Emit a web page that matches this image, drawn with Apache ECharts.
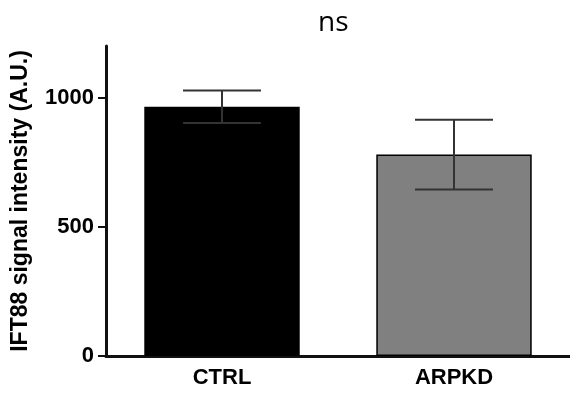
<!DOCTYPE html>
<html>
<head>
<meta charset="utf-8">
<script src="https://cdn.jsdelivr.net/npm/echarts@6/dist/echarts.min.js"></script>
<style>
  html, body { margin: 0; padding: 0; background: #fff; }
  #chart { width: 570px; height: 393px; }
</style>
</head>
<body>
<div id="chart"></div>
<script>
var categories = ['CTRL', 'ARPKD'];
var means = [965, 780];
var errors = [63, 135];
var barColors = ['#000000', '#808080'];
var yTicks = [0, 500, 1000];

var chart = echarts.init(document.getElementById('chart'));

var font = 'Liberation Sans, Arial, sans-serif';

var option = {
  animation: false,
  title: {
    text: 'ns',
    left: 318,
    top: 9,
    padding: 0,
    textStyle: {
      fontFamily: 'Open Sans',
      fontSize: 28,
      fontWeight: 'normal',
      color: '#000'
    }
  },
  grid: { left: 106, right: -3, top: 46, bottom: 37 },
  xAxis: {
    type: 'category',
    data: categories,
    axisLine: { lineStyle: { color: '#111', width: 3 } },
    axisTick: { alignWithLabel: true, length: 8, lineStyle: { color: '#111', width: 3 } },
    axisLabel: {
      margin: 11,
      color: '#000',
      fontFamily: font,
      fontWeight: 'bold',
      fontSize: 22
    }
  },
  yAxis: {
    type: 'value',
    min: 0,
    max: 1200,
    name: 'IFT88 signal intensity (A.U.)',
    nameLocation: 'middle',
    nameRotate: 90,
    nameGap: 74,
    nameTextStyle: {
      color: '#000',
      fontFamily: font,
      fontWeight: 'bold',
      fontSize: 23
    },
    splitLine: { show: false },
    axisLine: { show: true, lineStyle: { color: '#111', width: 3 } },
    axisTick: { show: true, length: 8, customValues: yTicks, lineStyle: { color: '#111', width: 2 } },
    axisLabel: {
      margin: 12,
      customValues: yTicks,
      formatter: function (v) { return String(v); },
      color: '#000',
      fontFamily: font,
      fontWeight: 'bold',
      fontSize: 22
    }
  },
  series: [
    {
      type: 'bar',
      barWidth: '67%',
      data: means.map(function (v, i) {
        return {
          value: v,
          itemStyle: { color: barColors[i], borderColor: '#000', borderWidth: 1.5 }
        };
      })
    },
    {
      type: 'custom',
      z: 5,
      data: means.map(function (v, i) { return [i, v - errors[i], v + errors[i]]; }),
      renderItem: function (params, api) {
        var lo = api.coord([api.value(0), api.value(1)]);
        var hi = api.coord([api.value(0), api.value(2)]);
        var half = api.size([1, 0])[0] * 0.168;
        var style = { stroke: '#333', lineWidth: 2 };
        return {
          type: 'group',
          children: [
            { type: 'line', shape: { x1: hi[0], y1: hi[1], x2: lo[0], y2: lo[1] }, style: style },
            { type: 'line', shape: { x1: hi[0] - half, y1: hi[1], x2: hi[0] + half, y2: hi[1] }, style: style },
            { type: 'line', shape: { x1: lo[0] - half, y1: lo[1], x2: lo[0] + half, y2: lo[1] }, style: style }
          ]
        };
      }
    }
  ]
};

chart.setOption(option);
</script>
</body>
</html>
